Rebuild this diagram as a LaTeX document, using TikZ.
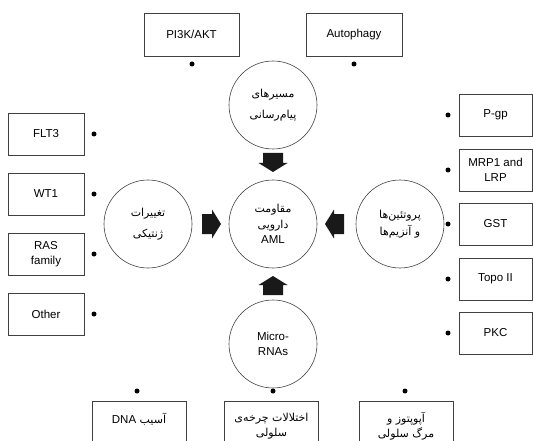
\documentclass[tikz,border=0pt]{standalone}
\usepackage{fontspec}
\setmainfont{Liberation Sans}
\newfontfamily\farsi[Script=Arabic]{DejaVu Sans}
\TeXXeTstate=1
\newcommand{\fa}[1]{{\farsi\fontsize{11}{15.5}\selectfont\beginR #1\endR}}
\usetikzlibrary{positioning}

\tikzset{
  hub/.style={circle, draw=black!75, line width=0.6pt, minimum size=88pt,
    inner sep=0pt, align=center, font=\fontsize{11.5}{15.5}\selectfont},
  item/.style={rectangle, draw=black!75, line width=0.6pt, minimum width=76pt,
    minimum height=42pt, inner sep=0pt, align=center, font=\fontsize{11.5}{15.5}\selectfont},
  dot/.style={circle, fill=black, inner sep=0pt, minimum size=5pt},
}

\begin{document}
\begin{tikzpicture}[x=1pt, y=-1pt]
    \clip (0,0) rectangle (533,441);
    % circles
    \node[hub] (path) at (273,105) {\fa{مسیرهای}\\[5pt]\fa{پیام‌رسانی}};
    \node[hub] (res)  at (273,224) {\fa{مقاومت}\\\fa{دارویی}\\AML};
    \node[hub] (gene) at (148,224) {\fa{تغییرات}\\[5pt]\fa{ژنتیکی}};
    \node[hub] (prot) at (400,224) {\fa{پروتئین‌ها}\\[2pt]\fa{و آنزیم‌ها}};
    \node[hub] (mir)  at (273,344) {Micro-\\RNAs};
    % fat arrows into the centre
    \foreach\a in {0,90,180,270}
    {
      \begin{scope}[shift={(res.center)}, rotate=\a]
        \fill[black!90] (52,0) -- (61,14.5) -- (61,10) -- (71,10)
                        -- (71,-10) -- (61,-10) -- (61,-14.5) -- cycle;
      \end{scope}
    }
    % left column
    \foreach\y/\n/\t in {134/flt/FLT3, 194/wt/WT1, 254/ras/{RAS\\family}, 314/oth/Other}
    {
      \node[item] (\n) at (46,\y) {\t};
      \node[dot] (\n-dot) at (94,\y) {};
    }
    % right column
    \foreach\y/\n/\t in {115/pgp/P-gp, 170/mrp/{MRP1 and\\LRP}, 224/gst/GST, 279/topo/Topo II, 333/pkc/PKC}
    {
      \node[item, minimum width=73pt] (\n) at (495.5,\y) {\t};
      \node[dot] (\n-dot) at (448,\y) {};
    }
    % top row
    \node[item, minimum width=95pt, minimum height=43pt] (pik)  at (191.5,34.5) {PI3K/AKT};
    \node[item, minimum width=96pt, minimum height=43pt] (auto) at (354,34.5)   {Autophagy};
    \node[dot] (pik-dot)  at (192,64) {};
    \node[dot] (auto-dot) at (354,64) {};
    % bottom row (runs off the page)
    \node[item, minimum width=94pt, minimum height=50pt] (dna)  at (139,426)
      {\fa{آسیب \beginL{\normalfont\fontsize{11.5}{15.5}\selectfont DNA}\endL}\\~};
    \node[item, minimum width=94pt, minimum height=50pt] (cyc)  at (271.5,426)
      {\fa{اختلالات چرخه‌ی}\\\fa{سلولی}};
    \node[item, minimum width=94pt, minimum height=50pt] (apo)  at (406,426)
      {\fa{آپوپتوز و}\\\fa{مرگ سلولی}};
    \foreach\x/\n in {137/dna, 273/cyc, 405/apo}
      \node[dot] (\n-dot) at (\x,391) {};
\end{tikzpicture}
\end{document}
